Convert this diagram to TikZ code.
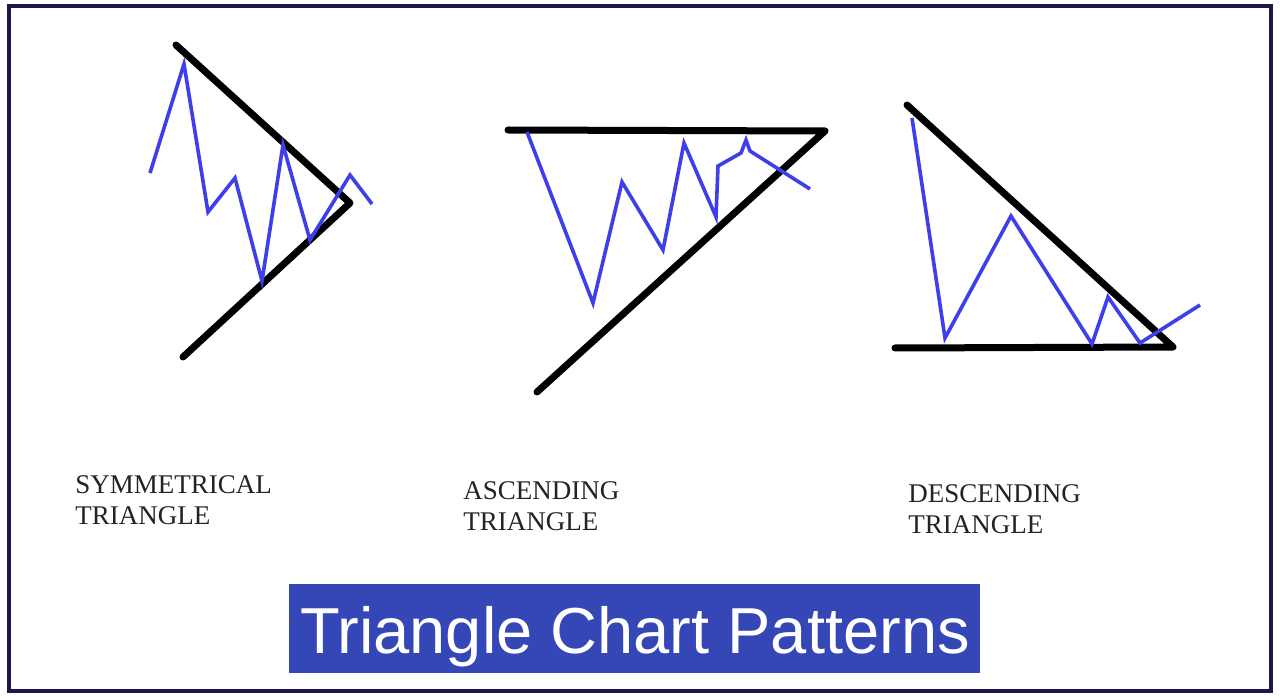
\documentclass[tikz,border=0pt]{standalone}
\usepackage{fontspec}
\setmainfont{Liberation Serif}
\newfontfamily\titlefont{Liberation Sans}
\definecolor{frame}{RGB}{25,25,75}
\definecolor{price}{RGB}{62,62,235}
\definecolor{titlebg}{RGB}{53,70,182}
\definecolor{labelgray}{RGB}{35,35,35}
\tikzset{
  trend/.style={line width=3.5pt, black, line cap=round, line join=round},
  pricepath/.style={line width=1.8pt, price, line join=miter},
  lbl/.style={anchor=north west, inner sep=0pt, align=left, text=labelgray,
    font=\fontsize{13.5pt}{15.5pt}\selectfont},
}
\begin{document}
\begin{tikzpicture}[x=0.5pt,y=-0.5pt]
\useasboundingbox (0,0) rectangle (1280,700);
\fill[white] (0,0) rectangle (1280,700);
\draw[frame, line width=1.6pt] (9,6) rectangle (1271,691);

% Symmetrical triangle
\coordinate (s1) at (176,45);
\coordinate (s2) at (350,203);
\coordinate (s3) at (183,357);
\draw[trend] (s1) -- (s2) -- (s3);
\draw[pricepath] (150,173) -- (184,64) -- (208,212) -- (235,178) -- (262,281)
  -- (283,145) -- (310,240) -- (350,175) -- (372,204);

% Ascending triangle
\coordinate (a1) at (508,130);
\coordinate (a2) at (825,131);
\coordinate (a3) at (537,392);
\draw[trend] (a1) -- (a2) -- (a3);
\draw[pricepath] (527,132) -- (593,303) -- (622,182) -- (663,250) -- (684,143)
  -- (716,217) -- (718,166) -- (741,153) -- (746,140) -- (750,151) -- (810,189);

% Descending triangle
\coordinate (d1) at (907,105);
\coordinate (d2) at (1173,347);
\coordinate (d3) at (895,348);
\draw[trend] (d1) -- (d2) -- (d3);
\draw[pricepath] (912,118) -- (945,338) -- (1011,216) -- (1092,344) -- (1108,297)
  -- (1140,343) -- (1200,305);

% Labels
\node[lbl] (lsym) at (75,475) {SYMMETRICAL\\TRIANGLE};
\node[lbl] (lasc) at (463,481) {ASCENDING\\TRIANGLE};
\node[lbl] (ldes) at (908,484) {DESCENDING\\TRIANGLE};

% Title
\fill[titlebg] (289,584) rectangle (980,673);
\node[anchor=base, inner sep=0pt, text=white, font=\titlefont\fontsize{32.5pt}{36pt}\selectfont]
  (title) at (635,653) {Triangle Chart Patterns};
\end{tikzpicture}
\end{document}
